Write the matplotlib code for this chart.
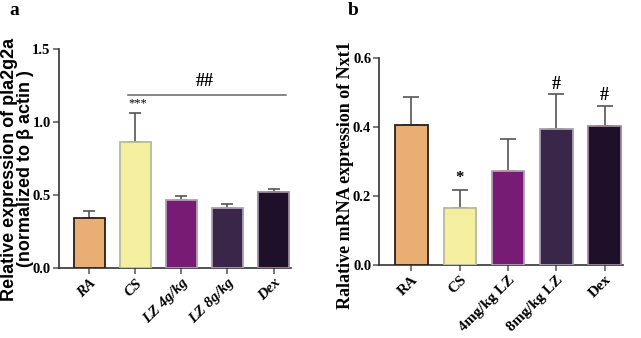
import matplotlib
matplotlib.use("Agg")
import matplotlib.pyplot as plt
import numpy as np

# panel a: pla2g2a
groups_a = ["RA", "CS", "LZ 4g/kg", "LZ 8g/kg", "Dex"]
mean_a = [0.346, 0.861, 0.465, 0.408, 0.520]
err_a = [0.046, 0.204, 0.027, 0.029, 0.020]

# panel b: Nxt1
groups_b = ["RA", "CS", "4mg/kg LZ", "8mg/kg LZ", "Dex"]
mean_b = [0.406, 0.164, 0.272, 0.395, 0.404]
err_b = [0.081, 0.054, 0.092, 0.101, 0.058]

colors = ["#E8AE74", "#F3EF9F", "#771B75", "#3A2649", "#1E1029"]
edges = ["#2b2018", "#b9b9a0", "#b0a0b0", "#a8a0b0", "#a08898"]

serif = "Liberation Serif"
sans = "Liberation Sans"

fig = plt.figure(figsize=(6.41, 3.38), dpi=100)
ax1 = fig.add_axes([0.092, 0.207, 0.362, 0.648])
ax2 = fig.add_axes([0.592, 0.216, 0.380, 0.612])


def draw(ax, names, means, errs, ymax, yticks, italic, capsize):
    x = np.arange(len(names))
    ax.errorbar(x, means, yerr=[np.zeros(len(errs)), errs], fmt="none",
                ecolor="#555555", elinewidth=1.2, capsize=capsize,
                capthick=1.2, zorder=2)
    ax.bar(x, means, width=0.67, color=colors, edgecolor=edges,
           linewidth=1.3, zorder=3)
    ax.set_ylim(0, ymax)
    ax.set_xlim(-0.66, 4.38)
    ax.set_yticks(yticks)
    ax.set_yticklabels(["%.1f" % t for t in yticks], fontfamily=serif,
                       fontweight="bold", fontsize=10.5)
    ax.set_xticks(x)
    ax.set_xticklabels(names, rotation=45, ha="right", rotation_mode="anchor",
                       fontfamily=serif, fontweight="bold", fontsize=11,
                       fontstyle="italic" if italic else "normal")
    for s in ["top", "right"]:
        ax.spines[s].set_visible(False)
    for s in ["left", "bottom"]:
        ax.spines[s].set_color("#333333")
        ax.spines[s].set_linewidth(1.2)
    ax.tick_params(direction="out", length=4, width=1.1, color="#555555", pad=2)


draw(ax1, groups_a, mean_a, err_a, 1.5, [0.0, 0.5, 1.0, 1.5], True, 4)
draw(ax2, groups_b, mean_b, err_b, 0.6, [0.0, 0.2, 0.4, 0.6], False, 6)

# significance marks, panel a
ax1.plot([0.83, 4.28], [1.186, 1.186], color="#666666", lw=1.1)
ax1.text(2.5, 1.22, "##", ha="center", va="bottom", fontfamily=serif,
         fontweight="bold", fontsize=13)
ax1.text(1.05, 1.09, "***", ha="center", va="bottom", fontfamily=serif,
         fontsize=9)

# significance marks, panel b
ax2.text(1, mean_b[1] + err_b[1] + 0.01, "*", ha="center", va="bottom",
         fontfamily=serif, fontweight="bold", fontsize=12)
for i in [3, 4]:
    ax2.text(i, mean_b[i] + err_b[i] + 0.004, "#", ha="center", va="bottom",
             fontfamily=serif, fontweight="bold", fontsize=13)

# axis titles
fig.text(0.027, 0.5, "Relative expression of pla2g2a\n(normalized to \u03b2 actin )",
         rotation=90, ha="center", va="center", multialignment="center",
         fontfamily=sans, fontweight="bold", fontsize=13, linespacing=0.95)
fig.text(0.539, 0.482, "Ralative mRNA expression of Nxt1", rotation=90,
         ha="center", va="center", fontfamily=serif, fontweight="bold",
         fontsize=13)

fig.text(0.023, 0.995, "a", fontfamily=serif, fontweight="bold", fontsize=14,
         ha="center", va="top")
fig.text(0.551, 0.995, "b", fontfamily=serif, fontweight="bold", fontsize=14,
         ha="center", va="top")

fig.savefig("out.png", dpi=100)
